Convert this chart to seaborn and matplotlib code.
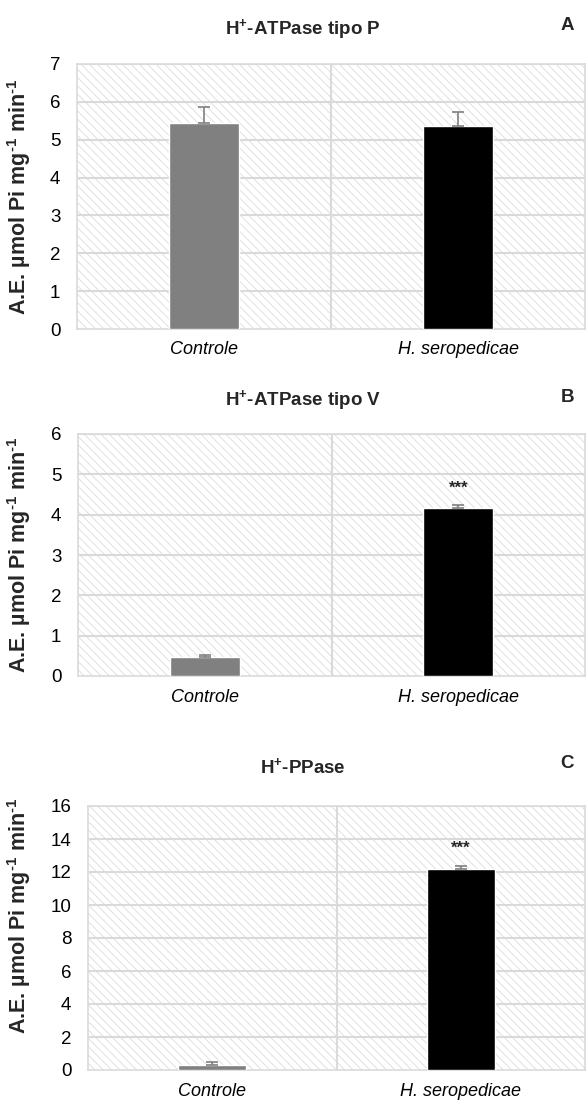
import numpy as np
import pandas as pd
import seaborn as sns
import matplotlib.pyplot as plt
from matplotlib.patches import Rectangle

groups = ['Controle', 'H. seropedicae']
colors = ['#808080', '#000000']

titles = ['H$^{+}$-ATPase tipo P', 'H$^{+}$-ATPase tipo V', 'H$^{+}$-PPase']
letters = ['A', 'B', 'C']

atpase_p = [5.43, 5.35]
atpase_p_err = [0.44, 0.39]
atpase_v = [0.47, 4.17]
atpase_v_err = [0.06, 0.07]
ppase = [0.30, 12.2]
ppase_err = [0.17, 0.14]

ylims = [7, 6, 16]
ysteps = [1, 1, 2]
stars = [None, '***', '***']

sns.set_style('white')
plt.rcParams['font.family'] = ['Liberation Sans', 'DejaVu Sans']
plt.rcParams['mathtext.fontset'] = 'custom'
plt.rcParams['mathtext.rm'] = 'Liberation Sans:bold'
plt.rcParams['mathtext.default'] = 'rm'
plt.rcParams['hatch.linewidth'] = 0.6

W, H = 586, 1103
fig = plt.figure(figsize=(W / 100, H / 100), dpi=100)

# axes boxes in pixels: left, top, right, bottom
boxes = [(77, 64, 585, 329), (78, 434, 585, 676), (88, 806, 585, 1070)]
title_y = [29, 400, 767]
label_y = [0.5, 0.5, 0.585]
values = [atpase_p, atpase_v, ppase]
errors = [atpase_p_err, atpase_v_err, ppase_err]
ylabel = r'A.E. µmol Pi mg$^{\text{-}1}$ min$^{\text{-}1}$'

for i, (l, t, r, b) in enumerate(boxes):
    ax = fig.add_axes([l / W, 1 - b / H, (r - l) / W, (b - t) / H])
    df = pd.DataFrame({'grupo': groups, 'valor': values[i]})

    # hatched background
    ax.add_patch(Rectangle((0, 0), 1, 1, transform=ax.transAxes, facecolor='white',
                           edgecolor='#dcdcdc', hatch='\\\\\\\\', linewidth=0, zorder=0))

    sns.barplot(data=df, x='grupo', y='valor', hue='grupo', palette=colors, width=0.275,
                legend=False, ax=ax, zorder=3)
    ax.errorbar(np.arange(len(groups)), values[i], yerr=[np.zeros(len(groups)), errors[i]],
                fmt='none', ecolor='#808080', elinewidth=1.2, capsize=4, capthick=1.2, zorder=4)

    ax.set_xlim(-0.5, 1.5)
    ax.set_ylim(0, ylims[i])
    ax.set_yticks(np.arange(0, ylims[i] + 0.1, ysteps[i]))
    for y in np.arange(ysteps[i], ylims[i] + 0.1, ysteps[i]):
        ax.axhline(y, color='#dadada', lw=1.5, zorder=1)
    ax.axvline(0.5, color='#dadada', lw=1.5, zorder=1)

    for sp in ax.spines.values():
        sp.set_color('#dadada')
        sp.set_linewidth(1.2)
        sp.set_visible(True)

    ax.tick_params(axis='both', length=0, colors='black')
    ax.tick_params(axis='y', pad=12, labelsize=13.5)
    ax.tick_params(axis='x', pad=9)
    ax.set_xticks(range(len(groups)))
    ax.set_xticklabels(groups, style='italic', fontsize=13)
    ax.set_xlabel('')
    ax.set_ylabel(ylabel, fontsize=15.5, fontweight='bold')
    ax.yaxis.set_label_coords((33 - l) / (r - l), label_y[i])

    if stars[i]:
        ax.text(1, values[i][1] + errors[i][1] + ylims[i] * 0.04, stars[i], ha='center',
                va='bottom', fontsize=12, fontweight='bold')

    fig.text(303 / W, 1 - title_y[i] / H, titles[i], ha='center', va='center',
             fontsize=13.5, fontweight='bold')
    fig.text(567 / W, 1 - (title_y[i] - 3) / H, letters[i], ha='center', va='center',
             fontsize=13.5, fontweight='bold')

fig.savefig('out.png', dpi=100)
